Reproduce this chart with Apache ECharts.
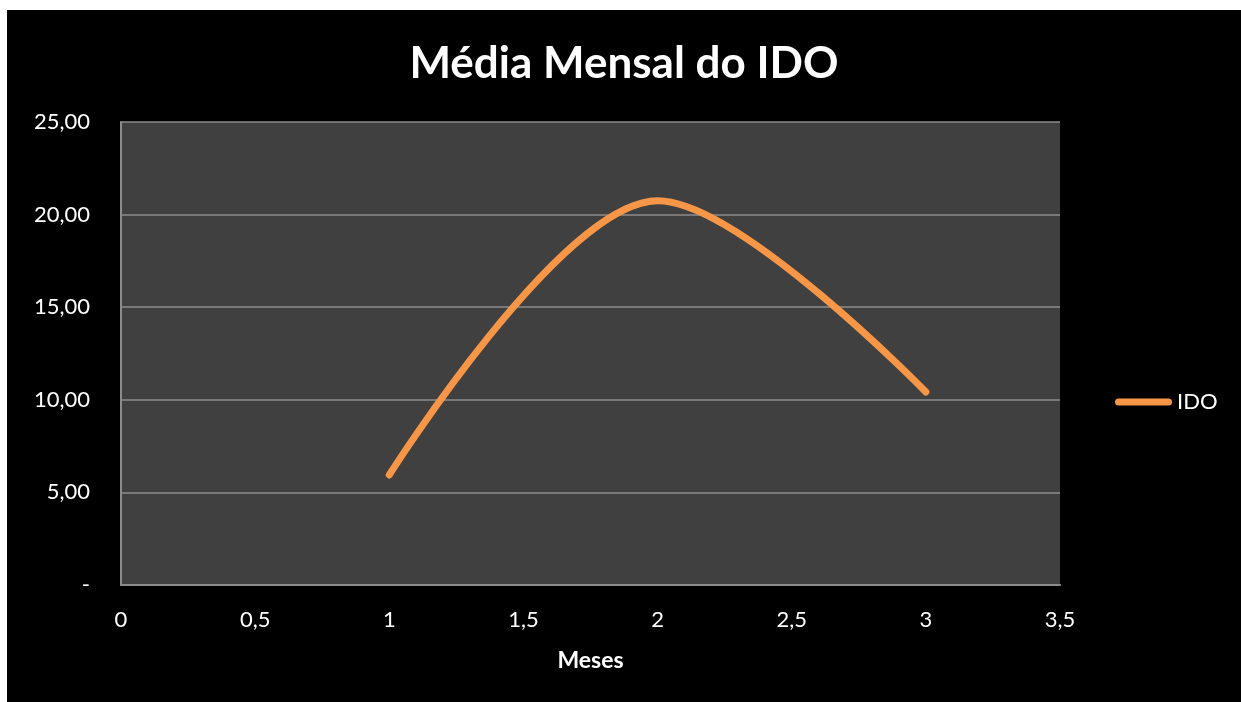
<!DOCTYPE html>
<html>
<head>
<meta charset="utf-8">
<script src="https://cdn.jsdelivr.net/npm/echarts@6/dist/echarts.min.js"></script>
<style>
  html, body { margin: 0; padding: 0; background: #000000; width: 1241px; height: 702px; overflow: hidden; }
  #chart { position: absolute; left: 7px; top: 10px; width: 1234px; height: 692px; }
  .edge { position: absolute; background: #ffffff; }
</style>
</head>
<body>
<div class="edge" style="left:0;top:0;width:1241px;height:10px"></div>
<div class="edge" style="left:0;top:0;width:7px;height:702px"></div>
<div id="chart"></div>
<script>
// Monthly IDO averages (month index → value)
const months = [1, 2, 3];
const idoValues = [5.94, 20.75, 10.42];

// Axis tick labels (Portuguese number format)
const yTickLabels = ['-', '5,00', '10,00', '15,00', '20,00', '25,00'];
const xTickLabels = ['0', '0,5', '1', '1,5', '2', '2,5', '3', '3,5'];

const FONT = 'Lato, "Open Sans", sans-serif';
const ORANGE = '#F79646';

const chart = echarts.init(document.getElementById('chart'), null, { renderer: 'canvas' });

chart.setOption({
  backgroundColor: '#000000',
  animation: false,
  title: {
    text: 'Média Mensal do IDO',
    left: 'center',
    top: 27,
    textStyle: { color: '#ffffff', fontFamily: FONT, fontWeight: 'bold', fontSize: 44 }
  },
  legend: {
    data: ['IDO'],
    orient: 'vertical',
    left: 1103,
    top: 376,
    itemWidth: 57,
    itemHeight: 7,
    icon: 'path://M3.5,0 H53.5 A3.5,3.5 0 0 1 53.5,7 H3.5 A3.5,3.5 0 0 1 3.5,0 Z',
    textStyle: { color: '#ffffff', fontFamily: FONT, fontSize: 22 }
  },
  grid: {
    left: 114,
    top: 112,
    right: 181,
    bottom: 117,
    show: true,
    backgroundColor: '#404040',
    borderWidth: 0
  },
  xAxis: {
    type: 'value',
    min: 0,
    max: 3.5,
    interval: 0.5,
    name: 'Meses',
    nameLocation: 'middle',
    nameGap: 64,
    nameTextStyle: { color: '#ffffff', fontFamily: FONT, fontWeight: 'bold', fontSize: 23 },
    axisLine: { show: true, lineStyle: { color: '#8c8c8c', width: 2 } },
    axisTick: { show: false },
    splitLine: { show: false },
    axisLabel: {
      color: '#ffffff',
      fontFamily: FONT,
      fontSize: 22,
      margin: 24,
      formatter: v => xTickLabels[Math.round(v / 0.5)]
    }
  },
  yAxis: {
    type: 'value',
    min: 0,
    max: 25,
    interval: 5,
    axisLine: { show: true, lineStyle: { color: '#8c8c8c', width: 2 } },
    axisTick: { show: false },
    splitLine: { show: true, lineStyle: { color: '#8c8c8c', width: 1.5 } },
    axisLabel: {
      color: '#ffffff',
      fontFamily: FONT,
      fontSize: 22,
      margin: 31,
      formatter: v => yTickLabels[Math.round(v / 5)]
    }
  },
  series: [{
    name: 'IDO',
    type: 'line',
    data: months.map((m, i) => [m, idoValues[i]]),
    smooth: 0.33,
    showSymbol: false,
    symbol: 'none',
    lineStyle: { color: ORANGE, width: 7, cap: 'round', join: 'round' },
    itemStyle: { color: ORANGE }
  }]
});
</script>
</body>
</html>
